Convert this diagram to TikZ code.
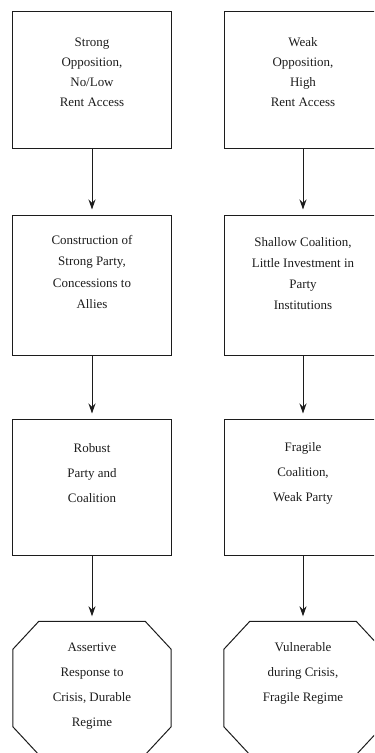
\documentclass[tikz,border=0pt]{standalone}
\usepackage{fontspec}
\setmainfont{Liberation Serif}
\usetikzlibrary{arrows.meta}
\definecolor{Ink}{HTML}{1C1C1C}
\newcommand{\pagearea}[2]{
  \path[use as bounding box] (0,0) rectangle (#1,#2);
  \clip (0,0) rectangle (#1,#2);
}
% cut corners of a named node: #1 name, #2 horizontal cut, #3 vertical cut
\newcommand{\cutcorners}[3]{
  \draw[draw=Ink,line width=1bp]
    ([xshift=#2]#1.north west) -- ([xshift=-#2]#1.north east)
    -- ([yshift=-#3]#1.north east) -- ([yshift=#3]#1.south east)
    -- ([xshift=-#2]#1.south east) -- ([xshift=#2]#1.south west)
    -- ([yshift=#3]#1.south west) -- ([yshift=-#3]#1.north west) -- cycle;
}
\tikzset{
  stagebox/.style={draw=Ink,line width=1bp,minimum width=158bp,inner sep=0bp},
  outcome/.style={minimum width=158bp,inner sep=0bp},
  caption/.style={text=Ink,font=\fontsize{13}{#1}\selectfont,
    inner sep=0bp,align=center},
  caption/.default=20bp,
  flow/.style={draw=Ink,line width=1bp,shorten >=5bp,
    -{Stealth[length=10bp,width=7bp]}}
}

\begin{document}
\begin{tikzpicture}[x=1bp,y=-1bp]
  \pagearea{374}{753}

  % left column
  \node[stagebox,minimum height=136bp] (strong) at (92,80) {};
  \node[stagebox,minimum height=140bp] (build) at (92,285) {};
  \node[stagebox,minimum height=136bp] (robust) at (92,487) {};
  \node[outcome,minimum height=133bp] (durable) at (92,688) {};
  \cutcorners{durable}{26bp}{28bp}
  \node[caption] (strongtxt) at (92,72)
    {Strong\\Opposition,\\No/Low\\Rent Access};
  \node[caption=21.5bp] (buildtxt) at (92,272)
    {Construction of\\Strong Party,\\Concessions to\\Allies};
  \node[caption=25bp] (robusttxt) at (92,473)
    {Robust\\Party and\\Coalition};
  \node[caption=25bp] (durabletxt) at (92,686)
    {Assertive\\Response to\\Crisis, Durable\\Regime};

  % right column
  \node[stagebox,minimum height=136bp] (weak) at (303,80) {};
  \node[stagebox,minimum height=140bp] (shallow) at (303,285) {};
  \node[stagebox,minimum height=136bp] (fragile) at (303,487) {};
  \node[outcome,minimum height=133bp] (vulnerable) at (303,688) {};
  \cutcorners{vulnerable}{26bp}{28bp}
  \node[caption] (weaktxt) at (303,72)
    {Weak\\Opposition,\\High\\Rent Access};
  \node[caption=21bp] (shallowtxt) at (303,274)
    {Shallow Coalition,\\Little Investment in\\Party\\Institutions};
  \node[caption=25bp] (fragiletxt) at (303,473)
    {Fragile\\Coalition,\\Weak Party};
  \node[caption=25bp] (vulnerabletxt) at (303,673)
    {Vulnerable\\during Crisis,\\Fragile Regime};

  \foreach \a/\b in {strong/build,build/robust,robust/durable,
      weak/shallow,shallow/fragile,fragile/vulnerable}
    \draw[flow] (\a) -- (\b);
\end{tikzpicture}
\end{document}
